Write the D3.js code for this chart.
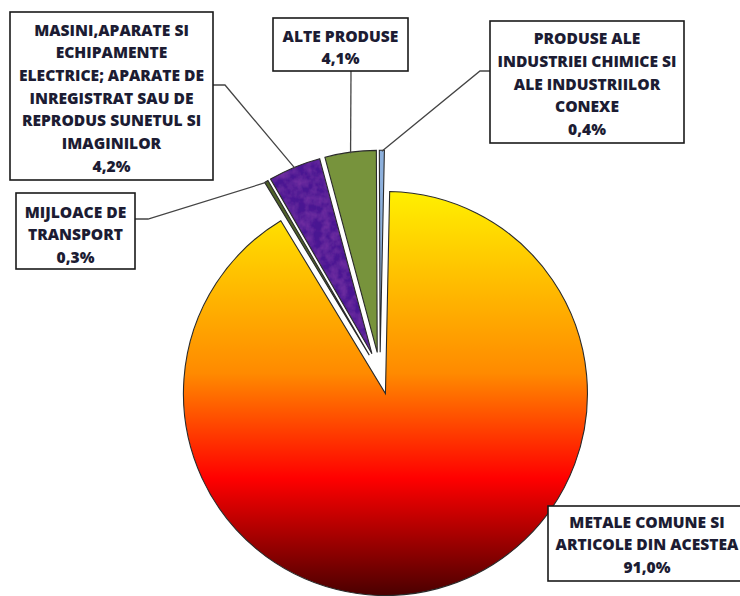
<!DOCTYPE html>
<html>
<head>
<meta charset="utf-8">
<script src="https://cdn.jsdelivr.net/npm/d3@7/dist/d3.min.js"></script>
<style>
  html, body { margin: 0; padding: 0; background: #fff; }
  svg { display: block; }
  .lbl { font-family: "Open Sans", Lato, sans-serif; font-weight: 800; font-size: 15.6px; letter-spacing: 0px; fill: #1c1c33; }
</style>
</head>
<body>
<svg id="chart" width="740" height="596"></svg>
<script>
// ---- data ----
const categories = [
  "METALE COMUNE SI ARTICOLE DIN ACESTEA",
  "MIJLOACE DE TRANSPORT",
  "MASINI,APARATE SI ECHIPAMENTE ELECTRICE; APARATE DE INREGISTRAT SAU DE REPRODUS SUNETUL SI IMAGINILOR",
  "ALTE PRODUSE",
  "PRODUSE ALE INDUSTRIEI CHIMICE SI ALE INDUSTRIILOR CONEXE"
];
const values = [91.0, 0.3, 4.2, 4.1, 0.4];
const labelLines = [
  ["METALE COMUNE SI", "ARTICOLE DIN ACESTEA"],
  ["MIJLOACE DE", "TRANSPORT"],
  ["MASINI,APARATE SI", "ECHIPAMENTE", "ELECTRICE; APARATE DE", "INREGISTRAT SAU DE", "REPRODUS SUNETUL SI", "IMAGINILOR"],
  ["ALTE PRODUSE"],
  ["PRODUSE ALE", "INDUSTRIEI CHIMICE SI", "ALE INDUSTRIILOR", "CONEXE"]
];

// ---- layout / style ----
const svg = d3.select("#chart");
const cx = 380, cy = 373.2, R = 202, explode = 21;
const startDeg = 1.2;
const fills = ["url(#fire)", "#4F6228", "url(#purpleTex)", "#77933C", "#8DB0DC"];

const defs = svg.append("defs");
const g1 = defs.append("linearGradient").attr("id", "fire")
  .attr("gradientUnits", "userSpaceOnUse")
  .attr("x1", 0).attr("x2", 0).attr("y1", -R).attr("y2", R);
[[0, "#FFF000"], [0.45, "#FF8A00"], [0.71, "#FF0000"], [1, "#4A0000"]].forEach(([o, c]) =>
  g1.append("stop").attr("offset", o).attr("stop-color", c));

// textured purple
const pat = defs.append("filter").attr("id", "tex").attr("x", 0).attr("y", 0).attr("width", 1).attr("height", 1);
pat.append("feTurbulence").attr("type", "fractalNoise").attr("baseFrequency", 0.12).attr("numOctaves", 3).attr("seed", 7).attr("result", "n");
pat.append("feColorMatrix").attr("in", "n").attr("type", "matrix")
  .attr("values", "0 0 0 0 0.22  0 0 0 0 0.04  0 0 0 0 0.40  0 0 0 1.1 -0.35").attr("result", "c");
pat.append("feComposite").attr("in", "c").attr("in2", "SourceGraphic").attr("operator", "atop");
const pp = defs.append("pattern").attr("id", "purpleTex").attr("patternUnits", "userSpaceOnUse")
  .attr("x", -300).attr("y", -300).attr("width", 600).attr("height", 600);
pp.append("rect").attr("width", 600).attr("height", 600).attr("fill", "#4A1592");
pp.append("rect").attr("width", 600).attr("height", 600).attr("fill", "#4A1592").attr("filter", "url(#tex)");

const pie = d3.pie().sort(null).value(d => d)
  .startAngle(startDeg * Math.PI / 180)
  .endAngle(startDeg * Math.PI / 180 + 2 * Math.PI);
const arcs = pie(values);
const arc = d3.arc().innerRadius(0).outerRadius(R);

function offset(d) {
  const m = (d.startAngle + d.endAngle) / 2;
  return [cx + explode * Math.sin(m), cy - explode * Math.cos(m)];
}

const gp = svg.append("g");
gp.selectAll("path").data(arcs).join("path")
  .attr("transform", d => { const o = offset(d); return `translate(${o[0]},${o[1]})`; })
  .attr("d", arc)
  .attr("fill", (d, i) => fills[i])
  .attr("stroke", "#2a2a2a")
  .attr("stroke-width", 1.1)
  .attr("stroke-linejoin", "miter");

// ---- label boxes ----
const boxes = [
  { x: 548, y: 506, w: 200, h: 75, cxT: 647, y0: 522, pts: null },
  { x: 16, y: 193, w: 119, h: 76, cxT: 75.5, y0: 212, pts: [[135, 219], [148, 219]] },
  { x: 10, y: 12, w: 203, h: 168, cxT: 111.5, y0: 30, pts: [[213, 85], [225, 85]] },
  { x: 273, y: 18, w: 135, h: 53, cxT: 340.5, y0: 36, pts: [[351, 71]] },
  { x: 490, y: 21, w: 194, h: 122, cxT: 587, y0: 38.5, pts: [[490, 71], [480, 71]] }
];
const lineH = 22.7;
const fmt = v => d3.format(".1f")(v).replace(".", ",") + "%";

// leader lines
arcs.forEach((d, i) => {
  const b = boxes[i];
  if (!b.pts) return;
  const o = offset(d);
  const m = (d.startAngle + d.endAngle) / 2;
  const end = [o[0] + (R - 1) * Math.sin(m), o[1] - (R - 1) * Math.cos(m)];
  svg.append("path")
    .attr("d", d3.line()(b.pts.concat([end])))
    .attr("fill", "none").attr("stroke", "#444").attr("stroke-width", 1.3);
});

boxes.forEach((b, i) => {
  const g = svg.append("g");
  g.append("rect").attr("x", b.x).attr("y", b.y).attr("width", b.w).attr("height", b.h)
    .attr("fill", "#fff").attr("stroke", "#1a1a1a").attr("stroke-width", 1.6);
  const lines = labelLines[i].concat([fmt(values[i])]);
  lines.forEach((t, k) => {
    g.append("text").attr("class", "lbl")
      .attr("x", b.cxT).attr("y", b.y0 + k * lineH)
      .attr("dy", "0.36em").attr("text-anchor", "middle").text(t);
  });
});
</script>
</body>
</html>
